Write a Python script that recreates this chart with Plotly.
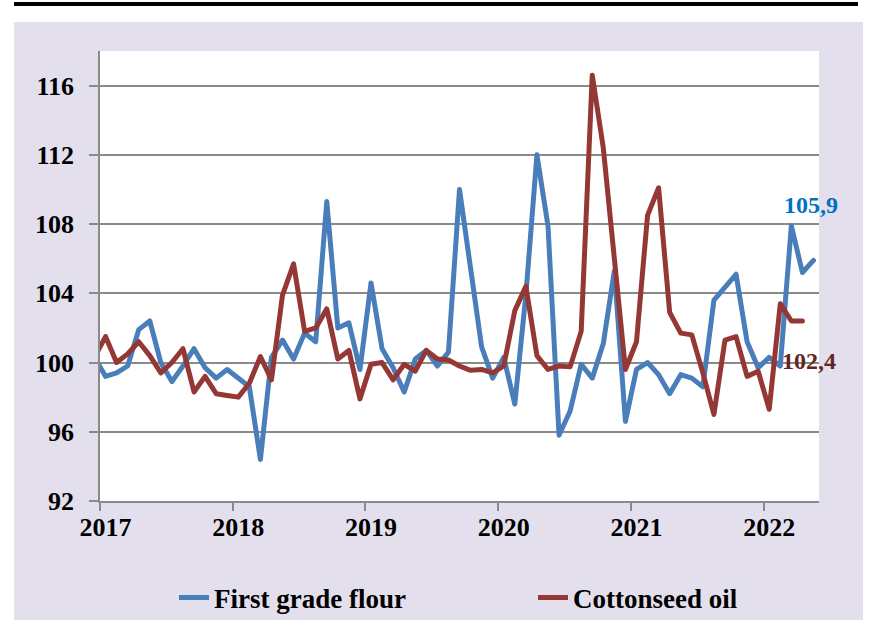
import numpy as np
import pandas as pd
import plotly.graph_objects as go

# ---- data (monthly index, Dec 2016 .. May 2022) ----
months = list(pd.period_range("2016-12", "2022-05", freq="M").strftime("%Y-%m"))

flour = [
    100.3,
    99.2, 99.4, 99.8, 101.9, 102.4, 100.0, 98.9, 99.8, 100.8, 99.7, 99.1, 99.6,      # 2017
    99.1, 98.6, 94.4, 100.3, 101.3, 100.2, 101.7, 101.2, 109.3, 102.0, 102.3, 99.6,  # 2018
    104.6, 100.8, 99.7, 98.3, 100.2, 100.7, 99.8, 100.6, 110.0, 105.4, 100.9, 99.1,  # 2019
    100.3, 97.6, 103.9, 112.0, 107.9, 95.8, 97.2, 99.9, 99.1, 101.1, 105.3, 96.6,    # 2020
    99.6, 100.0, 99.3, 98.2, 99.3, 99.1, 98.6, 103.6, 104.3, 105.1, 101.2, 99.7,     # 2021
    100.3, 99.8, 107.9, 105.2, 105.9,                                                # 2022
]

oil = [
    100.3,
    101.5, 100.0, 100.5, 101.2, 100.4, 99.4, 100.0, 100.8, 98.3, 99.2, 98.2, 98.1,   # 2017
    98.0, 98.8, 100.35, 99.0, 103.9, 105.7, 101.8, 102.0, 103.1, 100.2, 100.7, 97.9, # 2018
    99.9, 100.0, 99.0, 99.9, 99.5, 100.7, 100.2, 100.15, 99.8, 99.55, 99.6, 99.4,    # 2019
    99.8, 103.0, 104.4, 100.4, 99.6, 99.8, 99.75, 101.8, 116.6, 112.4, 106.3, 99.6,  # 2020
    101.2, 108.5, 110.1, 102.9, 101.7, 101.6, 99.4, 97.0, 101.3, 101.5, 99.2, 99.5,  # 2021
    97.3, 103.4, 102.4, 102.4, None,                                                 # 2022
]

years = ["2017", "2018", "2019", "2020", "2021", "2022"]
y_ticks = [92, 96, 100, 104, 108, 112, 116]
series_names = ["First grade flour", "Cottonseed oil"]

# ---- styling ----
BLUE = "#4A7EBB"
RED = "#953735"
GRID = "#8A8A8A"
LAV = "#E4DFEC"
FONT = "Liberation Serif"

W, H = 888, 620
ML, MR, MT, MB = 100, 69, 51, 119
PW, PH = W - ML - MR, H - MT - MB


def px_x(px):
    return (px - ML) / PW


def px_y(py):
    return (H - MB - py) / PH


# category positions: each month centred in its slot, Jan 2017 slot starts at 0
pos = np.arange(len(months)) - 0.5
jan_pos = [pos[months.index(f"{y}-01")] for y in years]
year_bounds = [p - 0.5 for p in jan_pos]

fig = go.Figure()
fig.add_trace(go.Scatter(x=pos, y=flour, mode="lines", name=series_names[0],
                         line=dict(color=BLUE, width=5)))
fig.add_trace(go.Scatter(x=pos, y=oil, mode="lines", name=series_names[1],
                         line=dict(color=RED, width=5), connectgaps=False))
# empty trace that carries the tick-mark axis (year boundaries)
fig.add_trace(go.Scatter(x=[], y=[], xaxis="x2", showlegend=False,
                         hoverinfo="skip"))

last_f = len(flour) - 1
last_o = max(i for i, v in enumerate(oil) if v is not None)

fig.add_annotation(x=pos[last_f], y=flour[last_f],
                   text=f"{flour[last_f]:.1f}".replace(".", ","),
                   showarrow=False, xshift=-2, yshift=55,
                   font=dict(family=FONT, size=24, color="#0070C0", weight="bold"))
fig.add_annotation(x=pos[last_o], y=oil[last_o],
                   text=f"{oil[last_o]:.1f}".replace(".", ","),
                   showarrow=False, xshift=7, yshift=-40,
                   font=dict(family=FONT, size=24, color="#632523", weight="bold"))

# background panel, white plot area, black rule on top
fig.add_shape(type="rect", xref="paper", yref="paper",
              x0=px_x(14), x1=px_x(863), y0=px_y(640), y1=px_y(22),
              fillcolor=LAV, line=dict(width=0), layer="below")
fig.add_shape(type="rect", xref="paper", yref="paper",
              x0=0, x1=1, y0=0, y1=1,
              fillcolor="white", line=dict(width=0), layer="below")
fig.add_shape(type="line", xref="paper", yref="paper",
              x0=px_x(14), x1=px_x(858), y0=px_y(4), y1=px_y(4),
              line=dict(color="black", width=4))

fig.update_layout(
    width=W, height=H,
    margin=dict(l=ML, r=MR, t=MT, b=MB, autoexpand=False),
    paper_bgcolor="white",
    plot_bgcolor="rgba(0,0,0,0)",
    font=dict(family=FONT, size=26, color="black", weight="bold"),
    showlegend=True,
    legend=dict(orientation="h", x=px_x(174), xanchor="left",
                y=px_y(598), yanchor="middle",
                entrywidth=314, bgcolor="rgba(0,0,0,0)",
                font=dict(family=FONT, size=27, color="black", weight="bold")),
    xaxis=dict(range=[0, 65], tickvals=jan_pos, ticktext=years, ticks="",
               showline=True, linecolor=GRID, linewidth=1.5, showgrid=False,
               zeroline=False, ticklabelstandoff=2,
               tickfont=dict(family=FONT, size=26, color="black", weight="bold")),
    xaxis2=dict(overlaying="x", anchor="y", side="bottom", range=[0, 65],
                tickvals=year_bounds, ticks="outside", ticklen=9,
                tickcolor=GRID, tickwidth=1.5, showticklabels=False,
                showline=False, showgrid=False, zeroline=False),
    yaxis=dict(range=[92, 118], tickvals=y_ticks, ticks="outside", ticklen=9,
               tickcolor=GRID, tickwidth=1.5, showline=True, linecolor=GRID,
               linewidth=1.5, showgrid=True, gridcolor=GRID, gridwidth=1.5,
               zeroline=False, ticklabelstandoff=10,
               tickfont=dict(family=FONT, size=26, color="black", weight="bold")),
)

post = ("document.body.style.margin='0';"
        "var s=document.createElement('style');"
        "s.innerHTML='body{margin:0}.scatterlayer .js-line{stroke-linejoin:round;stroke-linecap:round}';"
        "document.head.appendChild(s);")
fig.write_html("out.html", post_script=post, config={"displayModeBar": False})
